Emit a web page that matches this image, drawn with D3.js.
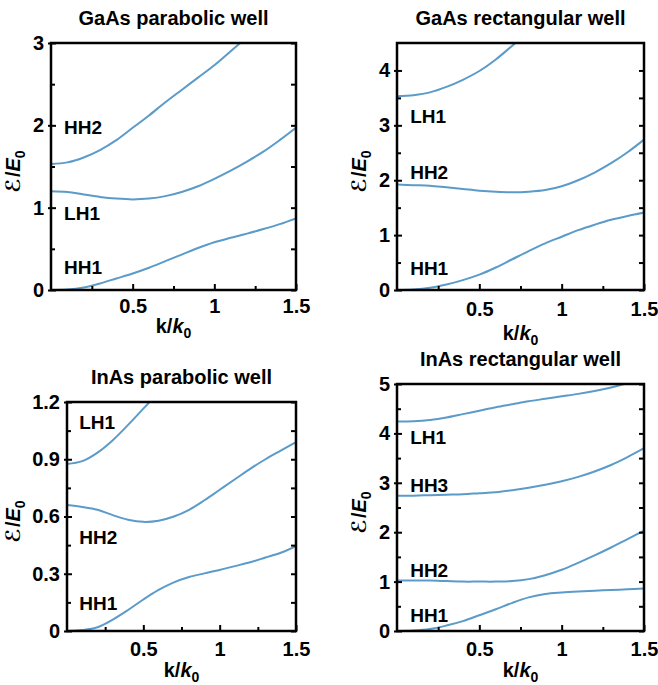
<!DOCTYPE html>
<html>
<head>
<meta charset="utf-8">
<script src="https://cdn.jsdelivr.net/npm/d3@7"></script>
<style>
  body { margin: 0; background: #fff; }
  text { font-family: "Liberation Sans", Arial, sans-serif; font-weight: bold; fill: #000; }
</style>
</head>
<body>
<div id="chart"></div>
<script>
// k/k0 sample points
const kFull = [0, 0.1, 0.2, 0.3, 0.4, 0.5, 0.6, 0.7, 0.8, 0.9, 1.0, 1.1, 1.2, 1.3, 1.4, 1.5];

// GaAs parabolic well
const gpHH1 = [0, 0.005, 0.03, 0.08, 0.14, 0.2, 0.27, 0.35, 0.43, 0.51, 0.58, 0.635, 0.685, 0.74, 0.8, 0.87];
const gpLH1 = [1.2, 1.19, 1.16, 1.13, 1.11, 1.10, 1.11, 1.14, 1.19, 1.26, 1.35, 1.45, 1.56, 1.68, 1.82, 1.97];
const gpHH2k = [0, 0.1, 0.2, 0.3, 0.4, 0.5, 0.6, 0.7, 0.8, 0.9, 1.0, 1.1, 1.2];
const gpHH2 = [1.53, 1.55, 1.61, 1.70, 1.82, 1.97, 2.12, 2.28, 2.43, 2.58, 2.73, 2.9, 3.07];

// GaAs rectangular well
const grHH1 = [0, 0.01, 0.04, 0.1, 0.18, 0.28, 0.41, 0.56, 0.71, 0.85, 0.97, 1.09, 1.19, 1.28, 1.35, 1.41];
const grHH2 = [1.92, 1.91, 1.9, 1.87, 1.84, 1.81, 1.79, 1.78, 1.79, 1.82, 1.89, 2.0, 2.14, 2.31, 2.51, 2.74];
const grLH1k = [0, 0.1, 0.2, 0.3, 0.4, 0.5, 0.6, 0.7, 0.8];
const grLH1 = [3.53, 3.55, 3.6, 3.7, 3.83, 3.99, 4.2, 4.45, 4.7];

// InAs parabolic well
const ipHH1 = [0, 0.005, 0.02, 0.06, 0.11, 0.165, 0.215, 0.255, 0.283, 0.302, 0.32, 0.34, 0.36, 0.385, 0.41, 0.445];
const ipHH2 = [0.66, 0.65, 0.635, 0.607, 0.583, 0.572, 0.578, 0.6, 0.635, 0.685, 0.74, 0.795, 0.85, 0.9, 0.945, 0.99];
const ipLH1k = [0, 0.1, 0.2, 0.3, 0.4, 0.5, 0.6];
const ipLH1 = [0.875, 0.89, 0.935, 1.0, 1.08, 1.165, 1.25];

// InAs rectangular well
const irHH1 = [0, 0.01, 0.04, 0.11, 0.2, 0.32, 0.44, 0.57, 0.68, 0.75, 0.78, 0.8, 0.815, 0.83, 0.845, 0.86];
const irHH2 = [1.02, 1.02, 1.02, 1.01, 1.0, 1.0, 1.0, 1.01, 1.05, 1.13, 1.24, 1.38, 1.53, 1.69, 1.86, 2.03];
const irHH3 = [2.74, 2.74, 2.75, 2.76, 2.77, 2.79, 2.81, 2.85, 2.9, 2.96, 3.03, 3.12, 3.23, 3.36, 3.52, 3.70];
const irLH1k = [0, 0.1, 0.2, 0.3, 0.4, 0.5, 0.6, 0.7, 0.8, 0.9, 1.0, 1.1, 1.2, 1.3, 1.4];
const irLH1 = [4.24, 4.245, 4.27, 4.32, 4.39, 4.46, 4.53, 4.59, 4.65, 4.7, 4.75, 4.8, 4.86, 4.93, 5.02];

// ticks
const xMajor = [0.5, 1, 1.5];
const xMinor = [0.25, 0.75, 1.25];

// band labels: name and energy where the label sits
const gpLabels = ["HH2", "LH1", "HH1"], gpLabelE = [1.97, 0.935, 0.27];
const grLabels = ["LH1", "HH2", "HH1"], grLabelE = [3.16, 2.14, 0.40];
const ipLabels = ["LH1", "HH2", "HH1"], ipLabelE = [1.094, 0.49, 0.147];
const irLabels = ["LH1", "HH3", "HH2", "HH1"], irLabelE = [3.93, 2.94, 1.235, 0.32];

const lineColor = "#5b9bc9";

const svg = d3.select("#chart").append("svg")
  .attr("width", 658)
  .attr("height", 685);

const panels = [
  { id: "p1", title: "GaAs parabolic well", left: 51, top: 43, right: 296, bottom: 290,
    yMax: 3, yMajor: [0, 1, 2, 3], yMinor: [0.5, 1.5, 2.5],
    curves: [[kFull, gpHH1], [kFull, gpLH1], [gpHH2k, gpHH2]],
    labels: gpLabels, labelE: gpLabelE, xPad: 9, xLabelY: 333, yLabelOff: 31 },
  { id: "p2", title: "GaAs rectangular well", left: 397, top: 43, right: 644, bottom: 290,
    yMax: 4.5, yMajor: [0, 1, 2, 3, 4], yMinor: [0.5, 1.5, 2.5, 3.5],
    curves: [[kFull, grHH1], [kFull, grHH2], [grLH1k, grLH1]],
    labels: grLabels, labelE: grLabelE, xPad: 12, xLabelY: 340, yLabelOff: 31 },
  { id: "p3", title: "InAs parabolic well", left: 67, top: 402, right: 296, bottom: 631,
    yMax: 1.2, yMajor: [0, 0.3, 0.6, 0.9, 1.2], yMinor: [0.15, 0.45, 0.75, 1.05],
    curves: [[kFull, ipHH1], [kFull, ipHH2], [ipLH1k, ipLH1]],
    labels: ipLabels, labelE: ipLabelE, xPad: 11, xLabelY: 677, yLabelOff: 47 },
  { id: "p4", title: "InAs rectangular well", left: 397, top: 384, right: 644, bottom: 631,
    yMax: 5, yMajor: [0, 1, 2, 3, 4, 5], yMinor: [0.5, 1.5, 2.5, 3.5, 4.5],
    curves: [[kFull, irHH1], [kFull, irHH2], [kFull, irHH3], [irLH1k, irLH1]],
    labels: irLabels, labelE: irLabelE, xPad: 11, xLabelY: 677, yLabelOff: 31 }
];

panels.forEach(drawPanel);

function drawPanel(p) {
  const w = p.right - p.left, h = p.bottom - p.top;
  const x = d3.scaleLinear().domain([0, 1.5]).range([0, w]);
  const y = d3.scaleLinear().domain([0, p.yMax]).range([h, 0]);

  const g = svg.append("g").attr("transform", `translate(${p.left},${p.top})`);

  g.append("clipPath").attr("id", "clip-" + p.id)
    .append("rect").attr("width", w).attr("height", h);

  // curves
  const line = d3.line()
    .x(d => x(d[0]))
    .y(d => y(d[1]))
    .curve(d3.curveCatmullRom.alpha(0.5));

  g.append("g").attr("clip-path", `url(#clip-${p.id})`)
    .selectAll("path")
    .data(p.curves.map(c => d3.zip(c[0], c[1])))
    .join("path")
    .attr("d", line)
    .attr("fill", "none")
    .attr("stroke", lineColor)
    .attr("stroke-width", 2);

  // left axis: major ticks cross the spine, minor point inward
  const yAxis = g.append("g")
    .call(d3.axisLeft(y).tickValues(p.yMajor).tickFormat(d => String(d)).tickSize(-5).tickPadding(7));
  yAxis.selectAll(".tick line").attr("x1", -3).attr("x2", 5);
  g.append("g")
    .call(d3.axisLeft(y).tickValues(p.yMinor).tickFormat("").tickSize(-4));

  // right mirror ticks
  g.append("g").attr("transform", `translate(${w},0)`)
    .call(d3.axisRight(y).tickValues(p.yMajor.concat(p.yMinor)).tickFormat("").tickSize(-5));

  // bottom axis
  g.append("g").attr("transform", `translate(0,${h})`)
    .call(d3.axisBottom(x).tickValues(xMajor).tickFormat(d => String(d)).tickSize(-6).tickPadding(p.xPad));
  g.append("g").attr("transform", `translate(0,${h})`)
    .call(d3.axisBottom(x).tickValues(xMinor).tickFormat("").tickSize(-4));

  g.selectAll(".domain").remove();
  g.selectAll(".tick line").attr("stroke", "#000").attr("stroke-width", 2);
  g.selectAll(".tick text")
    .style("font-family", '"Liberation Sans", Arial, sans-serif')
    .style("font-weight", "bold")
    .style("font-size", "20px")
    .attr("fill", "#000");

  // frame
  g.append("rect")
    .attr("width", w).attr("height", h)
    .attr("fill", "none")
    .attr("stroke", "#000")
    .attr("stroke-width", 2.5);

  // band labels
  g.selectAll(".band")
    .data(p.labels.map((t, i) => [t, p.labelE[i]]))
    .join("text")
    .attr("class", "band")
    .attr("x", x(0.08))
    .attr("y", d => y(d[1]))
    .attr("dy", "0.35em")
    .style("font-size", "19px")
    .text(d => d[0]);

  // title
  svg.append("text")
    .attr("x", p.left + w / 2)
    .attr("y", p.top - 18)
    .attr("text-anchor", "middle")
    .style("font-size", "20px")
    .text(p.title);

  // x label  k/k0
  const xl = svg.append("text")
    .attr("x", p.left + w / 2)
    .attr("y", p.xLabelY)
    .attr("text-anchor", "middle")
    .style("font-size", "20px");
  xl.append("tspan").text("k/");
  xl.append("tspan").style("font-style", "italic").text("k");
  xl.append("tspan").attr("dy", 5).style("font-size", "14px").text("0");

  // y label  ℰ/E0
  const yl = svg.append("text")
    .attr("transform", `translate(${p.left - p.yLabelOff},${p.top + h / 2 + 5}) rotate(-90)`)
    .attr("text-anchor", "middle")
    .style("font-size", "20px");
  yl.append("tspan")
    .style("font-family", '"DejaVu Sans", sans-serif')
    .style("font-weight", "bold")
    .style("font-style", "italic")
    .text("\u2130");
  yl.append("tspan").attr("dx", 1).text("/");
  yl.append("tspan").style("font-style", "italic").text("E");
  yl.append("tspan").attr("dy", 5).style("font-size", "14px").text("0");
}
</script>
</body>
</html>
